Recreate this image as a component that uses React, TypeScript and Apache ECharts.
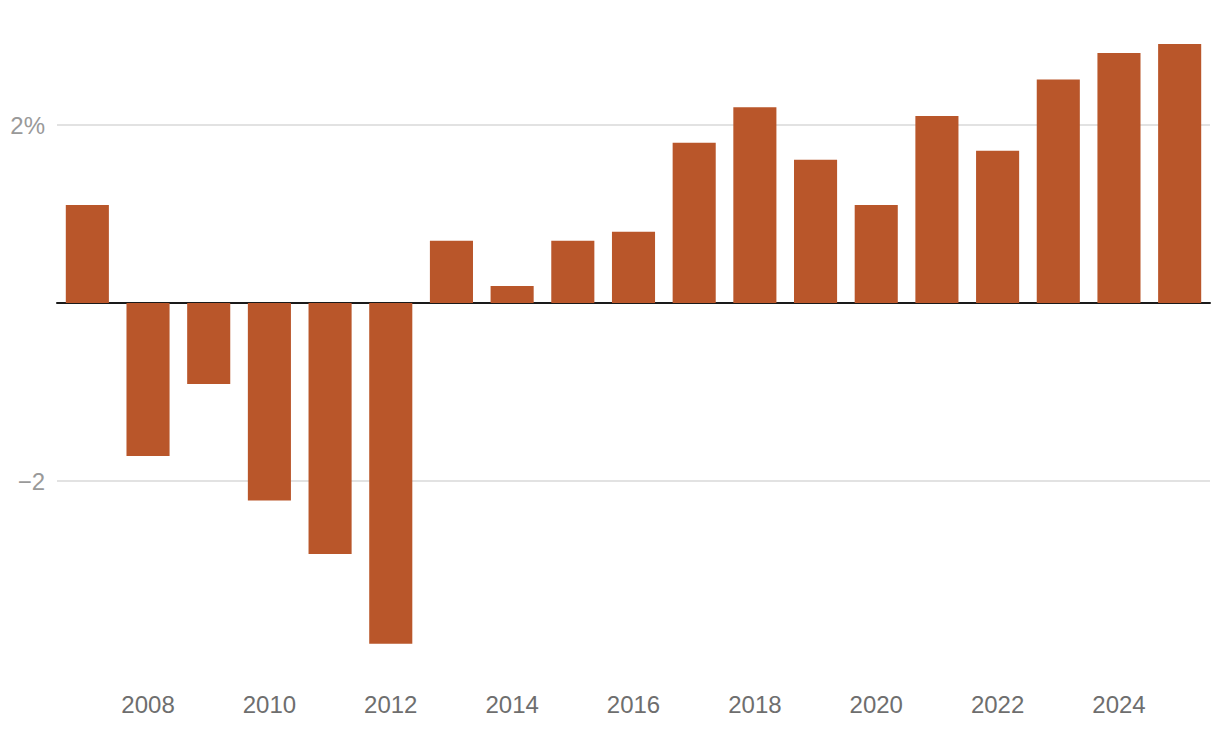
import React, { useEffect, useRef } from "react";
import * as echarts from "echarts";

const years = ["2007","2008","2009","2010","2011","2012","2013","2014","2015","2016","2017","2018","2019","2020","2021","2022","2023","2024","2025"];
const values = [1.1, -1.72, -0.91, -2.22, -2.82, -3.83, 0.7, 0.19, 0.7, 0.8, 1.8, 2.2, 1.61, 1.1, 2.1, 1.71, 2.51, 2.81, 2.91];
const gridValues = [2, -2];
const yLabels: Record<string, string> = { "2": "2%", "-2": "\u22122" };

const FONT = "'Liberation Sans', Arial, Helvetica, sans-serif";

export default function App() {
  const ref = useRef<HTMLDivElement>(null);
  useEffect(() => {
    if (!ref.current) return;
    const chart = echarts.init(ref.current, undefined, { renderer: "svg" });
    chart.setOption({
      animation: false,
      grid: { left: 57, right: 10, top: 36, bottom: 71, containLabel: false },
      xAxis: {
        type: "category",
        data: years,
        axisLine: { show: true, onZero: true, lineStyle: { color: "#1a1a1a", width: 2 } },
        axisTick: { show: false },
        axisLabel: {
          interval: (_i: number, v: string) => Number(v) % 2 === 0,
          color: "#6e6e6e",
          fontSize: 24,
          fontFamily: FONT,
          margin: 33,
        },
        splitLine: { show: false },
      },
      yAxis: {
        type: "value",
        min: -4,
        max: 3,
        interval: 2,
        axisLine: { show: false },
        axisTick: { show: false },
        splitLine: { show: false },
        axisLabel: {
          formatter: (v: number) => yLabels[String(v)] ?? "",
          color: "#999999",
          fontSize: 24,
          fontFamily: FONT,
          margin: 12,
        },
      },
      series: [
        {
          type: "bar",
          data: values,
          barWidth: "71%",
          itemStyle: { color: "#B9562A" },
          z: 1,
          markLine: {
            silent: true,
            symbol: "none",
            label: { show: false },
            lineStyle: { color: "#e2e2e2", width: 2, type: "solid" },
            data: gridValues.map((v) => ({ yAxis: v })),
            z: 0,
          },
        },
      ],
    });
    return () => chart.dispose();
  }, []);
  return (
    <div
      ref={ref}
      style={{ position: "fixed", left: 0, top: 0, width: 1220, height: 730, background: "#fff" }}
    />
  );
}
